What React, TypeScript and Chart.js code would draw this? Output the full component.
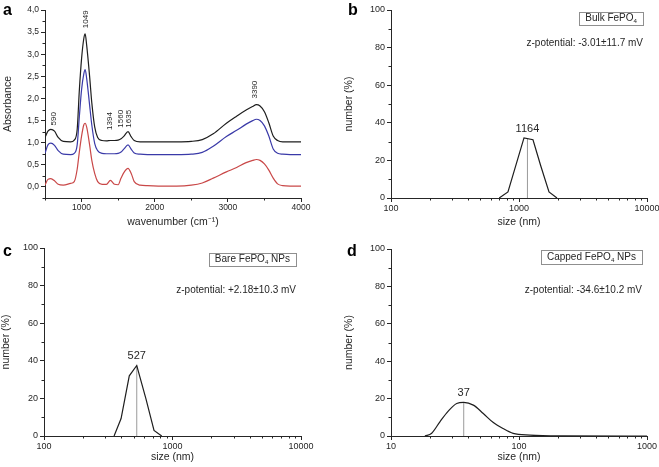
import React, { useEffect, useRef } from 'react';
import { Chart, registerables } from 'chart.js';
Chart.register(...registerables);

const FONT = '"Liberation Sans", Arial, Helvetica, sans-serif';
const INK = '#262626';

// ---------- Panel a: FTIR spectra ----------
const wavenumbers = [500, 540, 580, 630, 680, 750, 850, 900, 940, 970, 1000, 1030, 1049, 1070, 1110, 1140, 1180, 1220, 1280, 1340, 1394, 1450, 1500, 1540, 1580, 1635, 1680, 1720, 1800, 1900, 2100, 2300, 2500, 2650, 2800, 2980, 3120, 3250, 3340, 3390, 3440, 3500, 3560, 3620, 3680, 3750, 3850, 4000];
const absorbanceBlack = [1.12, 1.26, 1.30, 1.26, 1.12, 1.03, 1.02, 1.06, 1.3, 2.2, 2.9, 3.35, 3.46, 3.2, 2.5, 1.9, 1.35, 1.12, 1.05, 1.04, 1.05, 1.05, 1.06, 1.09, 1.15, 1.25, 1.13, 1.05, 1.02, 1.02, 1.02, 1.02, 1.03, 1.07, 1.2, 1.44, 1.6, 1.74, 1.82, 1.86, 1.83, 1.7, 1.45, 1.15, 1.05, 1.02, 1.02, 1.02];
const absorbanceBlue = [0.76, 0.95, 0.99, 0.94, 0.82, 0.74, 0.73, 0.76, 0.95, 1.6, 2.2, 2.55, 2.65, 2.45, 1.85, 1.4, 0.98, 0.82, 0.76, 0.75, 0.75, 0.75, 0.76, 0.79, 0.86, 0.95, 0.85, 0.77, 0.74, 0.73, 0.73, 0.73, 0.74, 0.78, 0.92, 1.14, 1.28, 1.42, 1.5, 1.53, 1.5, 1.38, 1.15, 0.86, 0.76, 0.74, 0.73, 0.73];
const absorbanceRed = [0.04, 0.17, 0.19, 0.14, 0.06, 0.04, 0.08, 0.12, 0.4, 0.8, 1.15, 1.4, 1.44, 1.35, 0.95, 0.6, 0.3, 0.12, 0.06, 0.06, 0.15, 0.06, 0.05, 0.2, 0.33, 0.42, 0.3, 0.12, 0.04, 0.03, 0.02, 0.02, 0.04, 0.09, 0.2, 0.34, 0.44, 0.55, 0.6, 0.62, 0.6, 0.52, 0.38, 0.2, 0.07, 0.03, 0.02, 0.02];
const ftirPeakText = ['590', '1049', '1394', '1560', '1635', '3390'];
const ftirPeakX = [616, 1063, 1392, 1542, 1646, 3366];
const ftirPeakY = [1.54, 3.79, 1.49, 1.54, 1.54, 2.2];
const ftirXTicks = [500, 1000, 1500, 2000, 2500, 3000, 3500, 4000];
const ftirXLabelled = [1000, 2000, 3000, 4000];
const ftirYTicks = [-0.25, 0, 0.25, 0.5, 0.75, 1, 1.25, 1.5, 1.75, 2, 2.25, 2.5, 2.75, 3, 3.25, 3.5, 3.75, 4];
const ftirYLabelled = [0, 0.5, 1, 1.5, 2, 2.5, 3, 3.5, 4];

// ---------- Panel b: Bulk FePO4 ----------
const bulkSize = [700, 820, 1094, 1286, 1480, 1715, 1980];
const bulkNumber = [0, 3.2, 32, 31, 17, 3.2, 0];
const bulkPeakSize = 1164;
const bulkPeakNumber = 31.6;

// ---------- Panel c: Bare FePO4 NPs ----------
const bareSize = [351, 398, 461, 527, 620, 718, 824];
const bareNumber = [0, 9.3, 32, 37.5, 20, 3, 0];
const barePeakSize = 527;
const barePeakNumber = 37.5;

// ---------- Panel d: Capped FePO4 NPs ----------
const cappedSize = [18.4, 20.8, 24.1, 28, 32.6, 37, 44, 52.6, 63, 75, 90, 122, 221, 1000];
const cappedNumber = [0, 1.5, 7.6, 13.3, 17.4, 18, 16.5, 12, 7.2, 4, 1.4, 0.5, 0.1, 0];
const cappedPeakSize = 37;
const cappedPeakNumber = 18;

const numberTicks = [0, 10, 20, 30, 40, 50, 60, 70, 80, 90, 100];
const numberLabelled = [0, 20, 40, 60, 80, 100];

function logTicks(min: number, max: number): number[] {
  const out: number[] = [];
  for (let d = min; d < max; d *= 10) {
    for (let k = 1; k < 10; k++) out.push(d * k);
  }
  out.push(max);
  return out;
}

type Pad = { left: number; top: number; right: number; bottom: number };

function makeAxis(o: {
  type: string; pos: 'bottom' | 'left'; min: number; max: number; ticks: number[];
  labelled: number[]; fmt?: (v: number) => string; title: string; size: number; titlePad: number;
  tickFont: number; titleFont: number;
}) {
  const isX = o.pos === 'bottom';
  return {
    type: o.type,
    position: o.pos,
    min: o.min,
    max: o.max,
    afterBuildTicks: (s: any) => { s.ticks = o.ticks.map((v) => ({ value: v })); },
    afterFit: (s: any) => {
      if (isX) { s.height = o.size; s.paddingLeft = 0; s.paddingRight = 0; }
      else { s.width = o.size; s.paddingTop = 0; s.paddingBottom = 0; }
    },
    ticks: {
      autoSkip: false, maxRotation: 0, minRotation: 0, padding: isX ? 1 : 2,
      color: INK, font: { family: FONT, size: o.tickFont },
      callback: (v: any) => {
        const n = Number(v);
        const hit = o.labelled.some((l) => Math.abs(l - n) < 1e-9);
        return hit ? (o.fmt ? o.fmt(n) : String(n)) : '';
      },
    },
    grid: {
      drawOnChartArea: false, drawTicks: true, tickLength: 4, tickWidth: 1,
      tickColor: (c: any) => (c.tick && c.tick.label !== '' ? INK : 'rgba(0,0,0,0)'),
    },
    border: { display: true, color: INK, width: 1 },
    title: {
      display: true, text: o.title, color: INK,
      font: { family: FONT, size: o.titleFont, lineHeight: 1 },
      padding: isX ? { top: 0, bottom: o.titlePad } : { top: o.titlePad, bottom: 0 },
    },
  };
}

function drawRich(ctx: CanvasRenderingContext2D, text: string, xRight: number, yMid: number, size: number) {
  const parts = text.split('_');
  const segs: { t: string; sub: boolean }[] = [];
  parts.forEach((p, i) => {
    if (i === 0) { segs.push({ t: p, sub: false }); return; }
    segs.push({ t: p.charAt(0), sub: true });
    segs.push({ t: p.slice(1), sub: false });
  });
  const main = `${size}px ${FONT}`;
  const small = `${size * 0.62}px ${FONT}`;
  let total = 0;
  segs.forEach((s) => { ctx.font = s.sub ? small : main; total += ctx.measureText(s.t).width; });
  let x = xRight - total;
  ctx.textAlign = 'left';
  ctx.textBaseline = 'middle';
  segs.forEach((s) => {
    ctx.font = s.sub ? small : main;
    ctx.fillText(s.t, x, s.sub ? yMid + size * 0.3 : yMid);
    x += ctx.measureText(s.t).width;
  });
  return total;
}

const minorTicks = {
  id: 'minorTicks',
  afterDraw(chart: any) {
    const ctx = chart.ctx;
    const ca = chart.chartArea;
    ctx.save();
    ctx.strokeStyle = INK;
    ctx.lineWidth = 1;
    ['x', 'y'].forEach((id) => {
      const s = chart.scales[id];
      s.ticks.forEach((t: any) => {
        if (t.label !== '') return;
        const p = Math.round(s.getPixelForValue(t.value)) + 0.5;
        ctx.beginPath();
        if (id === 'x') { ctx.moveTo(p, ca.bottom); ctx.lineTo(p, ca.bottom + 2.5); }
        else { ctx.moveTo(ca.left - 2.5, p); ctx.lineTo(ca.left, p); }
        ctx.stroke();
      });
    });
    ctx.restore();
  },
};

function letterPlugin(letter: string, x: number, y: number) {
  return {
    id: 'letter',
    afterDraw(chart: any) {
      const ctx = chart.ctx;
      ctx.save();
      ctx.fillStyle = '#000';
      ctx.font = `bold 16px ${FONT}`;
      ctx.textAlign = 'left';
      ctx.textBaseline = 'middle';
      ctx.fillText(letter, x, y);
      ctx.restore();
    },
  };
}

const ftirLabelsPlugin = {
  id: 'ftirLabels',
  afterDraw(chart: any) {
    const ctx = chart.ctx;
    const xs = chart.scales.x, ys = chart.scales.y;
    ctx.save();
    ctx.fillStyle = INK;
    ctx.font = `8px ${FONT}`;
    ctx.textAlign = 'center';
    ctx.textBaseline = 'middle';
    ftirPeakText.forEach((t, i) => {
      ctx.save();
      ctx.translate(xs.getPixelForValue(ftirPeakX[i]), ys.getPixelForValue(ftirPeakY[i]));
      ctx.rotate(-Math.PI / 2);
      ctx.fillText(t, 0, 0);
      ctx.restore();
    });
    ctx.restore();
  },
};

function dlsPlugin(o: { box: string; boxTop: number; boxH: number; boxRight: number; zText: string; zY: number; peakLabel: string; peakX: number; peakY: number }) {
  return {
    id: 'dlsNotes',
    afterDraw(chart: any) {
      const ctx = chart.ctx;
      const ca = chart.chartArea;
      const xs = chart.scales.x, ys = chart.scales.y;
      ctx.save();
      ctx.fillStyle = INK;
      const right = ca.right - o.boxRight;
      const top = ca.top + o.boxTop;
      const w = drawRich(ctx, o.box, right - 6, top + o.boxH / 2, 10) + 12;
      ctx.strokeStyle = '#8f8f8f';
      ctx.lineWidth = 1;
      ctx.strokeRect(Math.round(right - w) + 0.5, Math.round(top) + 0.5, Math.round(w), o.boxH);
      drawRich(ctx, o.zText, right, ca.top + o.zY, 10);
      ctx.font = `11px ${FONT}`;
      ctx.textAlign = 'center';
      ctx.textBaseline = 'bottom';
      ctx.fillText(o.peakLabel, xs.getPixelForValue(o.peakX), ys.getPixelForValue(o.peakY) - 4);
      ctx.restore();
    },
  };
}

function baseOptions(pad: Pad, scales: any) {
  return {
    responsive: false,
    maintainAspectRatio: false,
    animation: false,
    layout: { padding: pad },
    plugins: { legend: { display: false }, tooltip: { enabled: false } },
    elements: { point: { radius: 0 } },
    scales,
  };
}

function ftirConfig(): any {
  const mk = (vals: number[]) => wavenumbers.map((w, i) => ({ x: w, y: vals[i] }));
  const ds = (vals: number[], color: string) => ({
    data: mk(vals), borderColor: color, borderWidth: 1.2, cubicInterpolationMode: 'monotone', pointRadius: 0, fill: false,
  });
  return {
    type: 'line',
    data: { datasets: [ds(absorbanceBlack, '#1e1e1e'), ds(absorbanceBlue, '#3a3aa8'), ds(absorbanceRed, '#c94848')] },
    options: baseOptions({ left: 0, top: 10, right: 29, bottom: 0 }, {
      x: makeAxis({ type: 'linear', pos: 'bottom', min: 500, max: 4000, ticks: ftirXTicks, labelled: ftirXLabelled, title: 'wavenumber (cm⁻¹)', size: 32, titlePad: 3, tickFont: 8.5, titleFont: 10.5 }),
      y: makeAxis({ type: 'linear', pos: 'left', min: -0.25, max: 4, ticks: ftirYTicks, labelled: ftirYLabelled, fmt: (v) => v.toFixed(1).replace('.', ','), title: 'Absorbance', size: 45, titlePad: 3, tickFont: 8.5, titleFont: 10.5 }),
    }),
    plugins: [minorTicks, ftirLabelsPlugin, letterPlugin('a', 3, 11)],
  };
}

function dlsConfig(p: {
  sizes: number[]; values: number[]; peakSize: number; peakVal: number; xmin: number; xmax: number; smooth: boolean;
  pad: Pad; yW: number; xH: number; yTitlePad: number; xTitlePad: number; letter: string; lx: number; ly: number;
  box: string; boxTop: number; boxH: number; boxRight: number; zText: string; zY: number;
}): any {
  return {
    type: 'line',
    data: {
      datasets: [
        { data: p.sizes.map((s, i) => ({ x: s, y: p.values[i] })), borderColor: '#1e1e1e', borderWidth: 1.2, cubicInterpolationMode: p.smooth ? 'monotone' : 'default', tension: 0, pointRadius: 0, fill: false },
        { data: [{ x: p.peakSize, y: 0 }, { x: p.peakSize, y: p.peakVal }], borderColor: '#9a9a9a', borderWidth: 1, pointRadius: 0, fill: false },
      ],
    },
    options: baseOptions(p.pad, {
      x: makeAxis({ type: 'logarithmic', pos: 'bottom', min: p.xmin, max: p.xmax, ticks: logTicks(p.xmin, p.xmax), labelled: [p.xmin, p.xmin * 10, p.xmin * 100], title: 'size (nm)', size: p.xH, titlePad: p.xTitlePad, tickFont: 9, titleFont: 10.5 }),
      y: makeAxis({ type: 'linear', pos: 'left', min: 0, max: 100, ticks: numberTicks, labelled: numberLabelled, title: 'number (%)', size: p.yW, titlePad: p.yTitlePad, tickFont: 9, titleFont: 10.5 }),
    }),
    plugins: [
      minorTicks,
      letterPlugin(p.letter, p.lx, p.ly),
      dlsPlugin({ box: p.box, boxTop: p.boxTop, boxH: p.boxH, boxRight: p.boxRight, zText: p.zText, zY: p.zY, peakLabel: String(p.peakSize), peakX: p.peakSize, peakY: p.peakVal }),
    ],
  };
}

function Panel({ left, top, width, height, make }: { left: number; top: number; width: number; height: number; make: () => any }) {
  const ref = useRef<HTMLCanvasElement>(null);
  useEffect(() => {
    const chart = new Chart(ref.current as HTMLCanvasElement, make());
    return () => chart.destroy();
  }, []);
  return <canvas ref={ref} width={width} height={height} style={{ position: 'absolute', left, top, width, height }} />;
}

export default function App() {
  return (
    <div style={{ position: 'absolute', left: 0, top: 0, width: 659, height: 467, background: '#fff' }}>
      <Panel left={0} top={0} width={330} height={230} make={ftirConfig} />
      <Panel left={330} top={0} width={329} height={230} make={() => dlsConfig({
        sizes: bulkSize, values: bulkNumber, peakSize: bulkPeakSize, peakVal: bulkPeakNumber, xmin: 100, xmax: 10000, smooth: false,
        pad: { left: 0, top: 10, right: 12, bottom: 0 }, yW: 61, xH: 32, yTitlePad: 14, xTitlePad: 3,
        letter: 'b', lx: 18, ly: 11, box: 'Bulk FePO_4', boxTop: 2, boxH: 13, boxRight: 4,
        zText: 'z-potential: -3.01±11.7 mV', zY: 33,
      })} />
      <Panel left={0} top={230} width={330} height={237} make={() => dlsConfig({
        sizes: bareSize, values: bareNumber, peakSize: barePeakSize, peakVal: barePeakNumber, xmin: 100, xmax: 10000, smooth: false,
        pad: { left: 0, top: 18, right: 29, bottom: 0 }, yW: 44, xH: 31, yTitlePad: 1, xTitlePad: 5,
        letter: 'c', lx: 3, ly: 22, box: 'Bare FePO_4 NPs', boxTop: 5, boxH: 13, boxRight: 5,
        zText: 'z-potential: +2.18±10.3 mV', zY: 42,
      })} />
      <Panel left={330} top={230} width={329} height={237} make={() => dlsConfig({
        sizes: cappedSize, values: cappedNumber, peakSize: cappedPeakSize, peakVal: cappedPeakNumber, xmin: 10, xmax: 1000, smooth: true,
        pad: { left: 0, top: 19, right: 12, bottom: 0 }, yW: 61, xH: 31, yTitlePad: 14, xTitlePad: 5,
        letter: 'd', lx: 17, ly: 22, box: 'Capped FePO_4 NPs', boxTop: 1, boxH: 14, boxRight: 5,
        zText: 'z-potential: -34.6±10.2 mV', zY: 41,
      })} />
    </div>
  );
}
